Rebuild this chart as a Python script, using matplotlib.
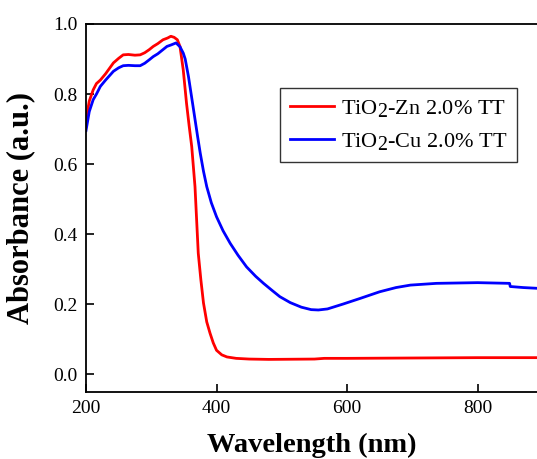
import matplotlib
matplotlib.use("Agg")
import matplotlib.pyplot as plt
import matplotlib._mathtext as _mt

# Data
wl_zn = [200, 205, 211, 216, 222, 230, 242, 250, 257, 265, 275, 283, 290, 297, 303, 310,
         318, 325, 330, 335, 340, 344, 349, 354, 358, 362, 367, 372, 376, 380, 385, 390,
         395, 400, 408, 416, 430, 450, 480, 550, 565, 600, 700, 800, 890]
abs_zn = [0.727, 0.78, 0.812, 0.83, 0.84, 0.858, 0.889, 0.902, 0.912, 0.913, 0.911, 0.912,
          0.918, 0.927, 0.936, 0.944, 0.955, 0.96, 0.965, 0.962, 0.955, 0.936, 0.869, 0.774,
          0.71, 0.65, 0.536, 0.346, 0.27, 0.204, 0.15, 0.118, 0.09, 0.069, 0.056, 0.05,
          0.046, 0.044, 0.043, 0.044, 0.046, 0.046, 0.047, 0.048, 0.048]

wl_cu = [200, 205, 211, 216, 222, 230, 242, 250, 257, 265, 275, 283, 290, 297, 303, 310,
         318, 324, 330, 338, 344, 349, 352, 357, 364, 371, 375, 380, 385, 392, 400, 410,
         421, 433, 446, 460, 472, 485, 497, 513, 530, 545, 556, 570, 594, 620, 650, 675,
         697, 737, 800, 849, 850, 870, 890]
abs_cu = [0.696, 0.75, 0.784, 0.8, 0.822, 0.84, 0.865, 0.875, 0.881, 0.882, 0.881, 0.881,
          0.888, 0.898, 0.907, 0.915, 0.927, 0.936, 0.94, 0.946, 0.935, 0.917, 0.9, 0.85,
          0.765, 0.679, 0.632, 0.58, 0.536, 0.49, 0.45, 0.41, 0.374, 0.34, 0.307, 0.28,
          0.26, 0.24, 0.222, 0.205, 0.192, 0.185, 0.184, 0.187, 0.201, 0.217, 0.236, 0.248,
          0.255, 0.26, 0.262, 0.26, 0.251, 0.248, 0.246]

labels = ["TiO$_2$-Zn 2.0% TT", "TiO$_2$-Cu 2.0% TT"]
xticks = [200, 400, 600, 800]
yticks = [0.0, 0.2, 0.4, 0.6, 0.8, 1.0]

# larger subscripts, as in the reference
_mt.SHRINK_FACTOR = 0.9

plt.rcParams['font.family'] = ['Liberation Serif', 'DejaVu Serif']
plt.rcParams['mathtext.fontset'] = 'custom'
plt.rcParams['mathtext.rm'] = 'Liberation Serif'
plt.rcParams['mathtext.it'] = 'Liberation Serif:italic'
plt.rcParams['mathtext.bf'] = 'Liberation Serif:bold'

fig = plt.figure(figsize=(5.37, 4.59), dpi=100)
ax = fig.add_axes([86/537, 1-392/459, 1-86/537, (392-24)/459])

ax.plot(wl_zn, abs_zn, color='#ff0000', lw=2.0, label=labels[0])
ax.plot(wl_cu, abs_cu, color='#0000ff', lw=2.0, label=labels[1])

ax.set_xlim(200, 891)
ax.set_ylim(-0.05, 1.0)
ax.set_xticks(xticks)
ax.set_yticks(yticks)
ax.set_yticklabels([f"{v:.1f}" for v in yticks])
ax.tick_params(direction='in', length=6, width=1.2, labelsize=14, pad=6,
               top=False, right=False)
for s in ['left', 'bottom', 'top']:
    ax.spines[s].set_linewidth(1.3)
ax.spines['right'].set_visible(False)

ax.set_xlabel("Wavelength (nm)", fontsize=20.5, fontweight='bold', labelpad=11)
ax.set_ylabel("Absorbance (a.u.)", fontsize=22, fontweight='bold', labelpad=13)

leg = ax.legend(loc='upper left', bbox_to_anchor=(280/537, 1-88/459),
                bbox_transform=fig.transFigure, borderaxespad=0,
                fontsize=16, frameon=True, fancybox=False, edgecolor='black',
                handlelength=2.0, borderpad=0.45, labelspacing=0.55, handletextpad=0.3)
leg.get_frame().set_linewidth(1.0)

fig.savefig("out.png", dpi=100)
